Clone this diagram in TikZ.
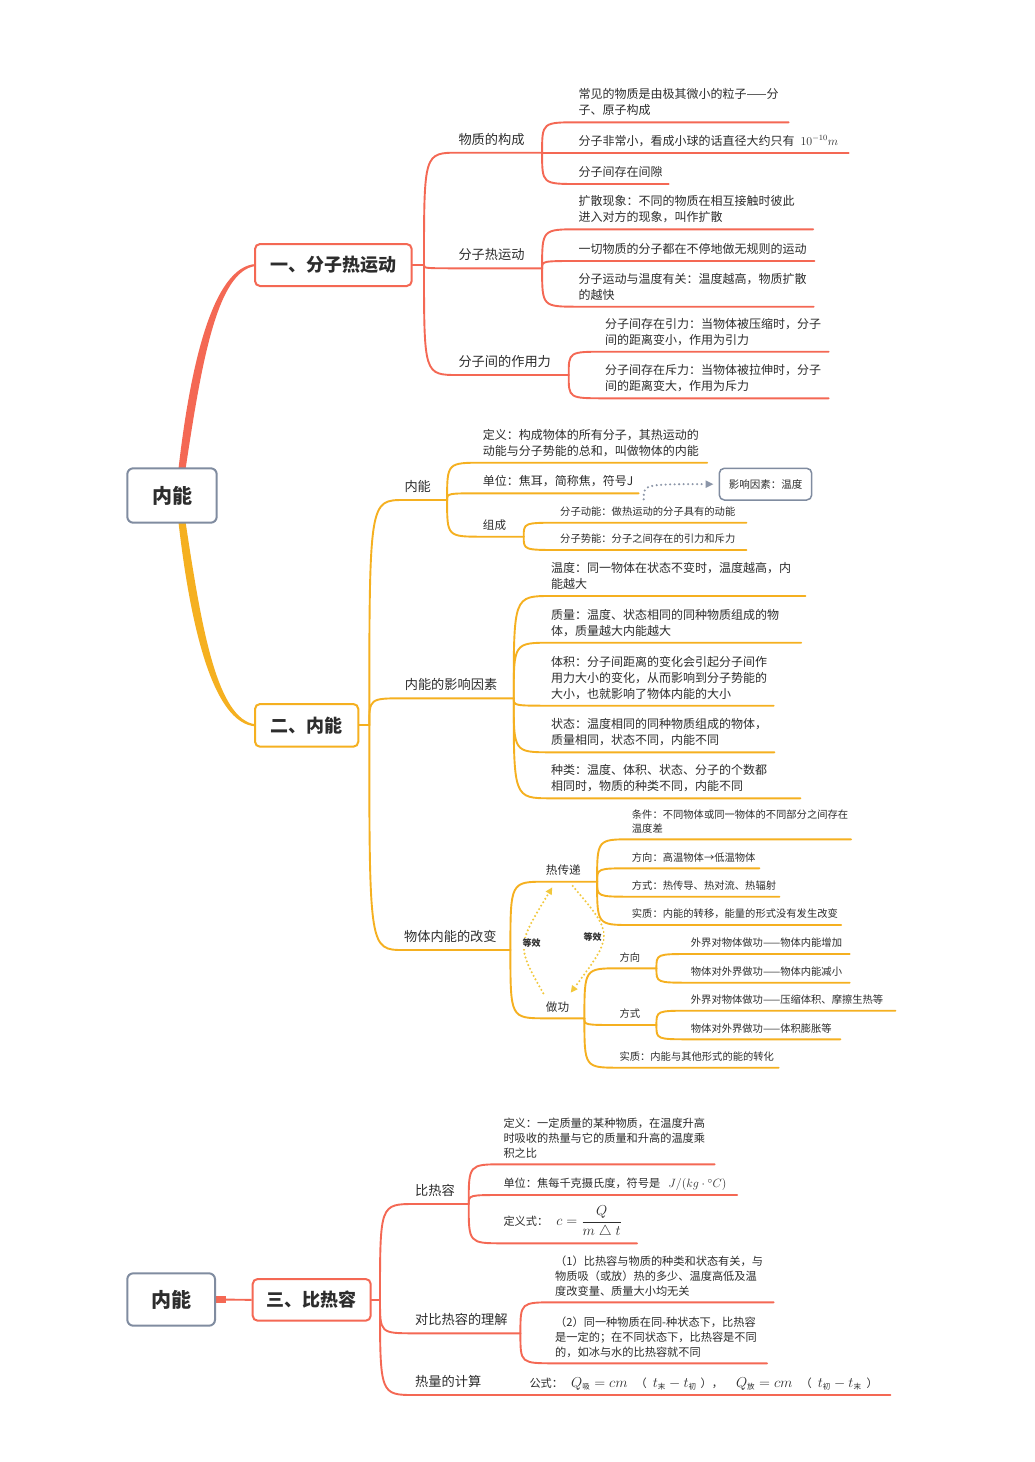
\documentclass[tikz,border=0pt]{standalone}
\usepackage{amsmath}
\usepackage{fontspec}
\setmainfont{Noto Sans CJK SC}
\usetikzlibrary{arrows.meta,calc,backgrounds}
\definecolor{redc}{RGB}{244,104,84}
\definecolor{yelc}{RGB}{245,176,32}
\definecolor{rootgray}{RGB}{128,140,160}
\definecolor{txt}{RGB}{45,45,45}
\definecolor{dotg}{RGB}{140,150,168}
\definecolor{eqc}{RGB}{242,200,60}
\newcommand{\fm}[1]{{\fontsize{14}{16}\selectfont$#1$}}
\newcommand{\sbx}[1]{\mbox{\fontsize{7.5}{8}\selectfont #1}}
\newcommand{\br}[2]{\draw (#1) .. controls (#1 |- #2.south west) .. (#2.south west) -- (#2.south east);}
\tikzset{
  base/.style={inner xsep=0pt, anchor=south west, align=left, text=txt, execute at end node=\strut},
  ltwo/.style={base, font=\fontsize{13.2}{16}\selectfont, inner ysep=3.5pt},
  lthree/.style={base, font=\fontsize{11.6}{14}\selectfont, inner ysep=2.5pt},
  leaf/.style={base, font=\fontsize{12}{16}\selectfont, inner ysep=2.6pt},
  small/.style={base, font=\fontsize{10.3}{13.5}\selectfont, inner ysep=3pt},
  leafc/.style={base, font=\fontsize{11.2}{15}\selectfont, inner ysep=2.5pt},
  rootbox/.style={draw=rootgray, line width=2pt, rounded corners=6pt, fill=white, font=\fontsize{20}{24}\selectfont\bfseries, text=txt},
  lonebox/.style={line width=2pt, rounded corners=5pt, fill=white, font=\fontsize{18}{22}\selectfont\bfseries, text=txt},
  infobox/.style={draw=rootgray, line width=1.5pt, rounded corners=5pt, fill=white, font=\fontsize{10.5}{12}\selectfont, text=txt, minimum width=92.4pt, minimum height=31.7pt},
  eqlab/.style={font=\fontsize{9}{10}\selectfont\bfseries, fill=white, inner sep=1pt, text=txt},
  eqarrow/.style={draw=eqc, line width=2.3pt, dash pattern=on 0pt off 4pt, line cap=round, -{Triangle[length=7pt,width=6.5pt]}},
  dotarrow/.style={draw=dotg, line width=2.3pt, dash pattern=on 0pt off 4.5pt, line cap=round, -{Triangle[length=8pt,width=7pt]}},
  conn/.style={line width=1.9pt, line cap=round},
}
\begin{document}
\begin{tikzpicture}[x=1pt,y=-1pt]
\useasboundingbox (0,0) rectangle (1034,1462);

% ---------- roots and main boxes
\node[rootbox, minimum width=89.4pt, minimum height=54.4pt] (r1) at (172,495.5) {内能};
\node[lonebox, draw=redc, minimum width=156.7pt, minimum height=42pt] (b1) at (333.35,265) {一、分子热运动};
\node[lonebox, draw=yelc, minimum width=103.3pt, minimum height=42.7pt] (b2) at (306.65,725.35) {二、内能};
\node[rootbox, minimum width=87.7pt, minimum height=52.4pt] (r2) at (171.15,1299.5) {内能};
\node[lonebox, draw=redc, minimum width=118pt, minimum height=41.7pt] (b3) at (311.7,1299.85) {三、比热容};

\coordinate (f1) at ([xshift=11.3pt]b1.east);
\coordinate (f2) at ([xshift=10pt]b2.east);
\coordinate (f3) at ([xshift=8.3pt]b3.east);
\coordinate (r1t) at ([xshift=9.7pt]r1.north);
\coordinate (r1b) at ([xshift=9.7pt]r1.south);

% ---------- section 1
\node[ltwo, text width=83.4pt] (n11) at (458.3,152.7) {物质的构成};
\node[ltwo, text width=83.4pt] (n12) at (458.3,268.3) {分子热运动};
\node[ltwo, text width=110pt] (n13) at (458.3,375) {分子间的作用力};
\node[leaf, text width=210pt] (a1) at (578.3,122.3) {常见的物质是由极其微小的粒子——分\\子、原子构成};
\node[leaf, text width=270pt] (a2) at (578.3,152.7) {\mbox{分子非常小，看成小球的话直径大约只有\hspace{6pt}$10^{-10}m$}};
\node[leaf, text width=90pt] (a3) at (578.3,184) {分子间存在间隙};
\node[leaf, text width=234.4pt] (a4) at (578.3,229.3) {扩散现象：不同的物质在相互接触时彼此\\进入对方的现象，叫作扩散};
\node[leaf, text width=235.7pt] (a5) at (578.3,261) {一切物质的分子都在不停地做无规则的运动};
\node[leaf, text width=235pt] (a6) at (578.3,306.7) {分子运动与温度有关：温度越高，物质扩散\\的越快};
\node[leaf, text width=223.3pt] (a7) at (605,351.7) {分子间存在引力：当物体被压缩时，分子\\间的距离变小，作用为引力};
\node[leaf, text width=223.3pt] (a8) at (605,398.3) {分子间存在斥力：当物体被拉伸时，分子\\间的距离变大，作用为斥力};

% ---------- section 2
\node[ltwo, text width=42.4pt] (m1) at (404.3,500) {内能};
\node[ltwo, text width=108.7pt] (m2) at (404.6,698.3) {内能的影响因素};
\node[ltwo, text width=106pt] (m3) at (404,950) {物体内能的改变};
\node[leaf, text width=224pt] (c1) at (482.7,462.7) {定义：构成物体的所有分子，其热运动的\\动能与分子势能的总和，叫做物体的内能};
\node[leaf, text width=155.6pt] (c2) at (482.7,493.3) {单位：焦耳，简称焦，符号J};
\node[lthree, text width=40.6pt] (c3) at (482.7,536.7) {组成};
\node[small, text width=186pt] (c31) at (560,522.7) {分子动能：做热运动的分子具有的动能};
\node[small, text width=186pt] (c32) at (560,550) {分子势能：分子之间存在的引力和斥力};
\node[infobox] (inf) at (765.5,484.15) {影响因素：温度};
\coordinate (d0) at ([xshift=5pt,yshift=-6pt]c2.south east);

\node[leaf, text width=254pt] (e1) at (551,596) {温度：同一物体在状态不变时，温度越高，内\\能越大};
\node[leaf, text width=249.7pt] (e2) at (551,642.7) {质量：温度、状态相同的同种物质组成的物\\体，质量越大内能越大};
\node[leaf, text width=222.3pt] (e3) at (551,705.7) {体积：分子间距离的变化会引起分子间作\\用力大小的变化，从而影响到分子势能的\\大小，也就影响了物体内能的大小};
\node[leaf, text width=223pt] (e4) at (551,752.3) {状态：温度相同的同种物质组成的物体，\\质量相同，状态不同，内能不同};
\node[leaf, text width=249pt] (e5) at (551,798.3) {种类：温度、体积、状态、分子的个数都\\相同时，物质的种类不同，内能不同};

\node[lthree, text width=51pt] (h1) at (545.7,881.7) {热传递};
\node[lthree, text width=38.3pt] (h2) at (545.7,1018.3) {做功};
\node[small, text width=219pt] (h11) at (631.7,839.3) {条件：不同物体或同一物体的不同部分之间存在\\温度差};
\node[small, text width=127.3pt] (h12) at (631.7,868.3) {方向：高温物体→低温物体};
\node[small, text width=147.3pt] (h13) at (631.7,896.7) {方式：热传导、热对流、热辐射};
\node[small, text width=209pt] (h14) at (631.7,925) {实质：内能的转移，能量的形式没有发生改变};
\node[small, text width=36.7pt] (k1) at (619.3,968.3) {方向};
\node[small, text width=36.7pt] (k2) at (619.3,1025) {方式};
\node[small, text width=159pt] (k3) at (619.3,1067.7) {实质：内能与其他形式的能的转化};
\node[small, text width=158.6pt] (k11) at (690.7,954) {外界对物体做功——物体内能增加};
\node[small, text width=158.6pt] (k12) at (690.7,982.7) {物体对外界做功——物体内能减小};
\node[small, text width=204.3pt] (k21) at (690.7,1010.7) {外界对物体做功——压缩体积、摩擦生热等};
\node[small, text width=149.3pt] (k22) at (690.7,1039.3) {物体对外界做功——体积膨胀等};

\coordinate (qa) at (543.3,993.3);
\coordinate (qb) at (552.3,887.3);
\coordinate (qc) at (572.7,886);
\coordinate (qd) at (570.7,992.7);
\node[eqlab] (eqa) at (531.7,943.3) {等效};
\node[eqlab] (eqb) at (592.7,936.7) {等效};

% ---------- section 3
\node[ltwo, text width=53.3pt] (p1) at (415,1204) {比热容};
\node[ltwo, text width=105pt] (p2) at (415,1333.3) {对比热容的理解};
\node[ltwo, text width=85pt] (p3) at (415,1395) {热量的计算};
\node[leafc, text width=211pt] (q1) at (503.3,1164.3) {定义：一定质量的某种物质，在温度升高\\时吸收的热量与它的质量和升高的温度乘\\积之比};
\node[leafc, text width=233.4pt] (q2) at (503.3,1195) {\mbox{单位：焦每千克摄氏度，符号是\hspace{8pt}{\fontsize{12.5}{14}\selectfont$J/(kg\cdot{}^{\circ}C)$}}};
\node[leafc, text width=133.4pt, inner ysep=5pt] (q3) at (503.3,1243.3) {\mbox{定义式：\hspace{8pt}{\fontsize{14.5}{16}\selectfont$c=\dfrac{Q}{m\;\triangle\;t}$}}};
\node[leafc, text width=218.3pt] (q4) at (555,1302.3) {（1）比热容与物质的种类和状态有关，与\\物质吸（或放）热的多少、温度高低及温\\度改变量、质量大小均无关};
\node[leafc, text width=211.7pt] (q5) at (555,1363.3) {（2）同一种物质在同-种状态下，比热容\\是一定的；在不同状态下，比热容是不同\\的，如冰与水的比热容就不同};
\node[leafc, text width=360.7pt] (q6) at (529.3,1395) {\mbox{公式：\hspace{8pt}\fm{Q_{\sbx{吸}}=cm}\hspace{8pt}（\hspace{6pt}\fm{t_{\sbx{末}}-t_{\sbx{初}}}\hspace{4pt}），\hspace{13pt}\fm{Q_{\sbx{放}}=cm}\hspace{8pt}（\hspace{6pt}\fm{t_{\sbx{初}}-t_{\sbx{末}}}\hspace{5pt}）}};

% ---------- connectors
\begin{scope}[on background layer]
\fill[white] (0,0) rectangle (1034,1462);
% tapered root connectors
\fill[redc] ($(r1t)+(-3.5,4)$) .. controls ($(r1t)+(8,-98)$) and ($(b1.west)+(-42,1)$) .. ($(b1.west)+(2,-1)$)
  -- ($(b1.west)+(2,1)$) .. controls ($(b1.west)+(-38,5)$) and ($(r1t)+(19,-98)$) .. ($(r1t)+(3.5,4)$) -- cycle;
\fill[yelc] ($(r1b)+(-3.5,-4)$) .. controls ($(r1b)+(8,98)$) and ($(b2.west)+(-42,-1)$) .. ($(b2.west)+(2,1)$)
  -- ($(b2.west)+(2,-1)$) .. controls ($(b2.west)+(-38,-5)$) and ($(r1b)+(19,98)$) .. ($(r1b)+(3.5,-4)$) -- cycle;
% section 3 root connector
\draw[redc, line width=1.9pt] (r2.east) -- (b3.west);
\fill[redc] ([yshift=3.3pt]r2.east) rectangle ([xshift=10pt,yshift=-3.3pt]r2.east);

\begin{scope}[redc, conn]
\draw (b1.east) -- (f1);
\br{f1}{n11} \br{f1}{n12} \br{f1}{n13}
\br{n11.south east}{a1} \br{n11.south east}{a2} \br{n11.south east}{a3}
\br{n12.south east}{a4} \br{n12.south east}{a5} \br{n12.south east}{a6}
\br{n13.south east}{a7} \br{n13.south east}{a8}
\draw (b3.east) -- (f3);
\br{f3}{p1} \br{f3}{p2} \br{f3}{p3}
\br{p1.south east}{q1} \br{p1.south east}{q2} \br{p1.south east}{q3}
\br{p2.south east}{q4} \br{p2.south east}{q5}
\br{p3.south east}{q6}
\end{scope}

\begin{scope}[yelc, conn]
\draw (b2.east) -- (f2);
\br{f2}{m1} \br{f2}{m2} \br{f2}{m3}
\br{m1.south east}{c1} \br{m1.south east}{c2} \br{m1.south east}{c3}
\br{c3.south east}{c31} \br{c3.south east}{c32}
\br{m2.south east}{e1} \br{m2.south east}{e2} \br{m2.south east}{e3} \br{m2.south east}{e4} \br{m2.south east}{e5}
\br{m3.south east}{h1} \br{m3.south east}{h2}
\br{h1.south east}{h11} \br{h1.south east}{h12} \br{h1.south east}{h13} \br{h1.south east}{h14}
\br{h2.south east}{k1} \br{h2.south east}{k2} \br{h2.south east}{k3}
\br{k1.south east}{k11} \br{k1.south east}{k12}
\br{k2.south east}{k21} \br{k2.south east}{k22}
\end{scope}

\draw[dotarrow] (d0) .. controls (d0 |- inf.west) .. ([xshift=-5pt]inf.west);
\draw[eqarrow] (qa) .. controls (516.5,946) .. (qb);
\draw[eqarrow] (qc) .. controls (614,934.5) .. (qd);
\end{scope}
\end{tikzpicture}
\end{document}
